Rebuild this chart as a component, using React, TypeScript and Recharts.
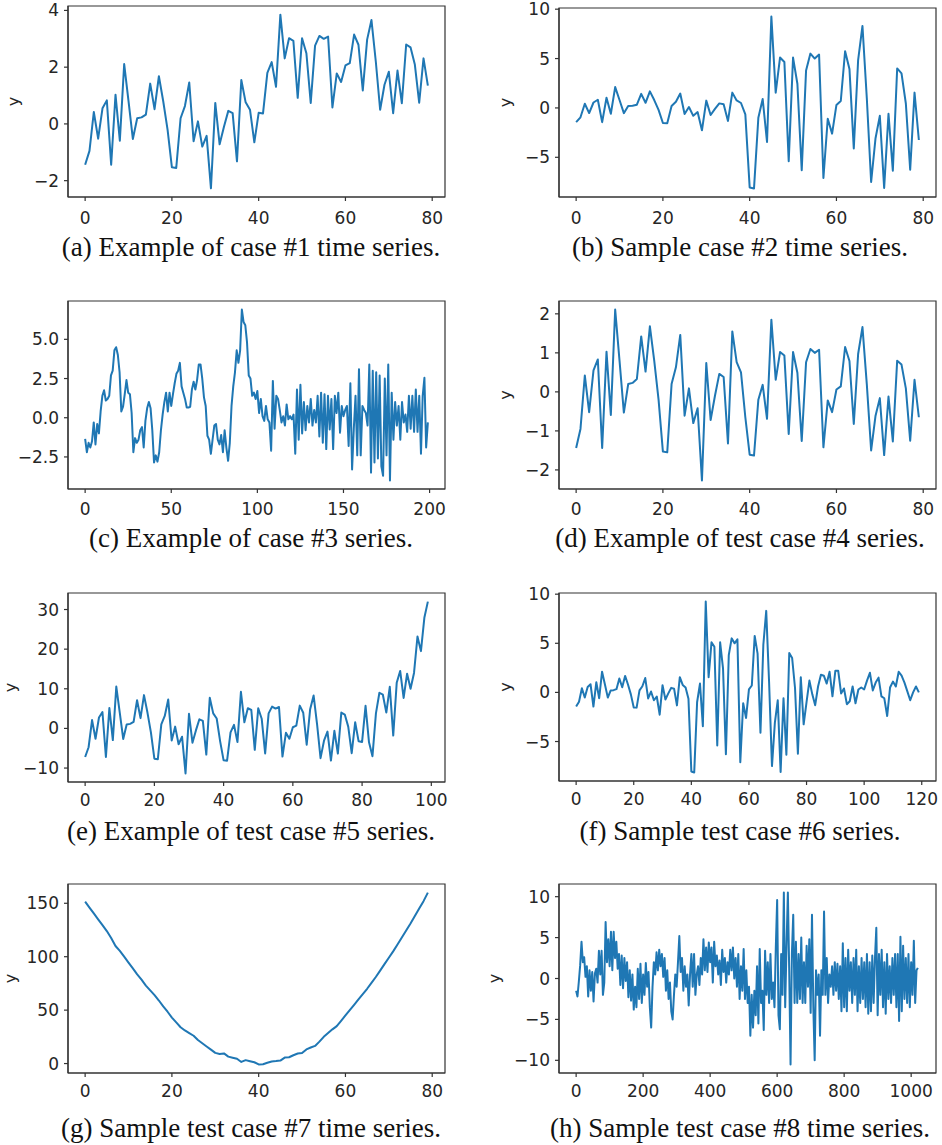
import React from 'react';
import { LineChart, Line, XAxis, YAxis, ReferenceArea } from 'recharts';

// ---------- data ----------
const aY = [-1.44, -0.95, 0.42, -0.52, 0.55, 0.83, -1.44, 1.03, -0.59, 2.11,
  0.8, -0.53, 0.2, 0.23, 0.33, 1.42, 0.52, 1.68, 0.8, -0.2,
  -1.53, -1.55, 0.2, 0.63, 1.46, -0.61, 0.09, -0.8, -0.42, -2.27,
  0.74, -0.72, -0.1, 0.46, 0.38, -1.32, 1.55, 0.76, 0.5, -0.65,
  0.39, 0.37, 1.8, 2.18, 1.31, 3.85, 2.31, 3.02, 2.93, 0.92,
  3.02, 2.49, 0.74, 2.76, 3.1, 3.0, 3.08, 0.58, 1.78, 1.48,
  2.06, 2.14, 3.15, 2.79, 1.18, 2.97, 3.66, 2.2, 0.5, 1.38,
  1.84, 0.38, 1.88, 0.73, 2.8, 2.7, 2.09, 0.75, 2.31, 1.35];

const bY = [-1.44, -0.95, 0.42, -0.52, 0.55, 0.83, -1.44, 1.03, -0.59, 2.11,
  0.8, -0.53, 0.2, 0.23, 0.33, 1.42, 0.52, 1.68, 0.8, -0.2,
  -1.53, -1.55, 0.2, 0.63, 1.46, -0.61, 0.09, -0.8, -0.42, -2.27,
  0.74, -0.72, -0.1, 0.46, 0.38, -1.32, 1.55, 0.76, 0.5, -0.65,
  -8.05, -8.15, -1.0, 0.9, -3.45, 9.25, 1.55, 5.1, 4.65, -5.4,
  5.1, 2.45, -6.3, 3.8, 5.5, 5.0, 5.4, -7.1, -1.1, -2.6,
  0.3, 0.7, 5.75, 3.95, -4.1, 4.85, 8.3, 1.0, -7.5, -3.1,
  -0.8, -8.1, -0.6, -6.35, 4.0, 3.5, 0.45, -6.25, 1.55, -3.25];

const cY = [-1.35, -2.2, -1.6, -1.9, -1.5, -0.3, -1.7, -0.4, -1.0, 0.4,
  1.4, 1.75, 1.1, 1.2, 1.4, 2.7, 3.0, 4.3, 4.5, 4.0,
  2.9, 0.4, 0.7, 1.5, 2.4, 1.6, 1.5, 0.3, -2.2, -1.3,
  -1.6, -1.4, -0.8, -0.6, -1.9, -0.2, 0.6, 1.0, 0.6, -0.8,
  -2.85, -2.4, -2.8, -2.2, -0.8, 0.2, 1.0, 1.6, 0.4, 1.6,
  0.75, 1.5, 2.2, 2.8, 3.0, 3.5, 2.0, 1.6, 1.2, 0.65,
  0.65, 0.7, 1.8, 2.3, 1.8, 2.4, 3.4, 3.4, 2.5, 1.3,
  0.75, -1.15, -1.4, -2.3, -1.4, -0.5, -0.4, -1.4, -1.7, -1.1,
  -2.2, -0.8, -1.9, -2.75, -1.6, 0.75, 2.0, 2.9, 4.3, 3.5,
  4.3, 6.9, 6.1, 5.9, 4.8, 2.7, 2.5, 1.4, 1.6, 1.2,
  1.7, 0.3, 1.2, 0.1, -0.2, 0.75, -0.1, -0.3, -2.1, 2.35,
  -0.7, 1.4, 1.2, 0.5, -0.3, 0.1, -0.5, 0.85, -0.1, 0.1,
  -0.1, 0.2, -2.3, 1.8, -1.4, 2.1, -1.0, 1.0, -0.8, 0.75,
  -0.3, 1.2, -0.5, 0.5, -0.3, 1.4, -1.2, 1.6, -1.6, 1.5,
  -2.0, 1.4, -0.75, 1.2, -2.0, 1.4, 0.3, 1.6, -0.95, 0.75,
  0.1, 0.5, 0.75, -1.8, 2.2, -3.3, -0.7, 1.4, -2.4, 3.1,
  -2.4, 0.75, 0.5, 0.3, -0.5, 3.4, -3.5, 3.0, -2.85, 2.9,
  -2.6, 2.7, -3.1, -3.7, 2.5, -2.4, 3.4, -4.0, 1.6, -1.4,
  1.0, -0.5, 0.75, -1.4, 1.0, -0.3, 0.2, -0.9, 1.4, -0.7,
  1.4, -0.9, 1.8, -0.9, 1.4, -2.3, 1.4, 2.55, -1.9, -0.3];

const dY = [-1.44, -0.95, 0.42, -0.52, 0.55, 0.83, -1.44, 1.03, -0.59, 2.11,
  0.8, -0.53, 0.2, 0.23, 0.33, 1.42, 0.52, 1.68, 0.8, -0.2,
  -1.53, -1.55, 0.2, 0.63, 1.46, -0.61, 0.09, -0.8, -0.42, -2.27,
  0.74, -0.72, -0.1, 0.46, 0.38, -1.32, 1.55, 0.76, 0.5, -0.65,
  -1.61, -1.63, -0.2, 0.18, -0.69, 1.85, 0.31, 1.02, 0.93, -1.08,
  1.02, 0.49, -1.26, 0.76, 1.1, 1.0, 1.08, -1.42, -0.22, -0.52,
  0.06, 0.14, 1.15, 0.79, -0.82, 0.97, 1.66, 0.2, -1.5, -0.62,
  -0.16, -1.62, -0.12, -1.27, 0.8, 0.7, 0.09, -1.25, 0.31, -0.65];

const eY = [-7.2, -4.75, 2.1, -2.6, 2.75, 4.15, -7.2, 5.15, -2.95, 10.55,
  4.0, -2.65, 1.0, 1.15, 1.65, 7.1, 2.6, 8.4, 4.0, -1.0,
  -7.65, -7.75, 1.0, 3.15, 7.3, -3.05, 0.45, -4.0, -2.1, -11.35,
  3.7, -3.6, -0.5, 2.3, 1.9, -6.6, 7.75, 3.8, 2.5, -3.25,
  -8.05, -8.15, -1.0, 0.9, -3.45, 9.25, 1.55, 5.1, 4.65, -5.4,
  5.1, 2.45, -6.3, 3.8, 5.5, 5.0, 5.4, -7.1, -1.1, -2.6,
  0.3, 0.7, 5.75, 3.95, -4.1, 4.85, 8.3, 1.0, -7.5, -3.1,
  -0.8, -8.1, -0.6, -6.35, 4.0, 3.5, 0.45, -6.25, 1.55, -3.25,
  -3.4, 5.7, -3.5, -7.0, 3.8, 9.0, 8.5, 4.0, 10.5, -1.8,
  11.5, 14.5, 7.7, 13.8, 10.0, 14.0, 23.2, 19.5, 28.0, 32.0];

const fY = [-1.44, -0.95, 0.42, -0.52, 0.55, 0.83, -1.44, 1.03, -0.59, 2.11,
  0.8, -0.53, 0.2, 0.23, 0.33, 1.42, 0.52, 1.68, 0.8, -0.2,
  -1.53, -1.55, 0.2, 0.63, 1.46, -0.61, 0.09, -0.8, -0.42, -2.27,
  0.74, -0.72, -0.1, 0.46, 0.38, -1.32, 1.55, 0.76, 0.5, -0.65,
  -8.05, -8.15, -1.0, 0.9, -3.45, 9.25, 1.55, 5.1, 4.65, -5.4,
  5.1, 2.45, -6.3, 3.8, 5.5, 5.0, 5.4, -7.1, -1.1, -2.6,
  0.3, 0.7, 5.75, 3.95, -4.1, 4.85, 8.3, 1.0, -7.5, -3.1,
  -0.8, -8.1, -0.6, -6.35, 4.0, 3.5, 0.45, -6.25, 1.55, -3.25,
  -1.0, 1.2, -0.2, -1.3, 0.6, 1.8, 1.7, 0.9, 2.1, -0.4,
  2.2, 2.2, -0.1, 0.4, -1.2, -0.9, 0.6, -1.1, 0.3, 0.5,
  0.3, 1.2, 2.0, 0.2, 1.0, 1.5, -0.4, -0.6, -2.4, 0.5,
  1.1, 0.6, 2.1, 1.7, 1.0, 0.1, -0.8, 0.0, 0.6, 0.0];

const gY = [151.5, 146, 140.5, 135, 129.5, 124, 117.5, 110, 105.5, 100,
  94.5, 89, 83.5, 78.5, 73, 68.5, 64, 59, 53.5, 48.5,
  43, 38.5, 34, 31, 28.5, 26, 22, 19, 16, 13,
  10, 9, 9.5, 6.5, 5.5, 4.5, 1.5, 3.2, 2.2, 1.2,
  -0.8, -0.6, 0.8, 2, 2.3, 2.8, 5.6, 5.9, 7.8, 9.4,
  9.8, 13.2, 15, 16.5, 20.5, 25, 28.5, 32, 35, 40,
  45, 50, 55, 60, 65, 70, 75.5, 81, 87, 93,
  99, 105, 111.5, 118, 124.5, 131, 138, 145, 152, 160];

// case #8: 1024 samples, read every 4th step
const hY = [-1.5, -2.2, -0.4, 1.6, 4.5, 2.0, 2.6, 0.2, 1.5, -2.2,
  1.0, -1.5, 0.8, -2.8, 0.6, 1.2, -0.5, 3.4, 0.5, 3.4,
  -2.0, -0.5, 6.9, 2.0, 4.8, 1.5, 5.7, 1.0, 5.7, 2.5,
  4.5, 1.2, 3.0, -0.8, 2.8, -1.2, 2.5, -0.3, 2.0, -2.3,
  1.0, -2.7, 0.5, -3.8, -1.0, -3.5, 1.2, -2.5, 1.8, -3.0,
  0.5, -2.0, 1.9, -1.0, 0.8, -3.5, -6.0, -1.0, 2.0, 0.5,
  3.2, 1.0, 3.5, 1.5, 3.0, 0.2, 2.5, -1.5, 1.0, -2.5,
  -0.5, -4.0, -5.0, -2.0, 0.5, -1.0, 2.0, 5.2, 0.8, 2.5,
  -1.5, 1.5, -1.0, 0.5, -3.3, 0.5, 3.0, -1.0, 3.0, -2.0,
  0.5, 1.5, -0.8, 2.5, 0.5, 4.8, 1.0, 3.8, 0.8, 4.4,
  2.0, 3.8, -0.5, 4.5, 1.5, 2.8, 0.5, 2.2, -0.8, 3.5,
  0.8, 2.5, -0.5, 2.0, 0.5, 3.5, 1.0, 3.8, 0.0, 2.5,
  -1.0, 3.0, -2.5, 1.5, -1.5, 3.6, -2.5, 1.0, -3.0, -1.0,
  -7.0, -2.0, -6.0, -1.5, -4.5, 1.5, -5.5, 3.6, -3.0, -1.5,
  -6.3, 3.4, -2.0, 2.0, -3.0, 3.0, -2.5, -0.5, -3.5, 3.8,
  9.6, -4.5, -6.2, 3.0, -2.0, 10.5, -3.5, 4.0, 10.5, 1.0,
  -10.5, 3.0, 7.8, -3.0, 4.5, -3.0, 3.0, -2.5, 5.0, -3.0,
  2.0, -3.0, 4.0, -1.0, 4.8, -4.2, 7.8, -3.5, -10.0, 1.0,
  -2.0, 0.5, -7.0, 1.0, -2.0, 8.2, -2.0, 2.5, -3.0, 0.5,
  -1.0, 1.5, -2.0, 2.0, -1.5, 1.8, -2.5, 1.5, -4.0, 4.3,
  -3.5, 2.5, -4.0, 3.5, -1.5, 2.0, -3.0, 2.5, -2.0, 3.5,
  -4.0, 1.5, -3.0, 2.5, -2.5, 2.0, -3.5, 3.0, -4.3, 2.0,
  -4.0, 2.8, -3.0, 2.5, 6.2, -4.5, 3.0, -2.0, 3.5, -3.5,
  2.0, -4.3, 3.0, -2.5, 1.5, -3.0, 2.5, -2.0, 3.0, -3.5,
  3.0, -5.2, 5.1, -4.0, 4.0, -2.5, 2.5, -3.0, 3.0, -3.5,
  2.0, -2.0, 4.6, -3.0, 1.0, 1.3];

const ticks80 = [0, 20, 40, 60, 80];
const ticks200 = [0, 50, 100, 150, 200];
const ticks100 = [0, 20, 40, 60, 80, 100];
const ticks120 = [0, 20, 40, 60, 80, 100, 120];
const ticks1000 = [0, 200, 400, 600, 800, 1000];

const yTicksA = [-2, 0, 2, 4];
const yTicksB = [-5, 0, 5, 10];
const yTicksC = [-2.5, 0, 2.5, 5];
const yTicksD = [-2, -1, 0, 1, 2];
const yTicksE = [-10, 0, 10, 20, 30];
const yTicksG = [0, 50, 100, 150];
const yTicksH = [-10, -5, 0, 5, 10];

const captions = [
  '(a) Example of case #1 time series.',
  '(b) Sample case #2 time series.',
  '(c) Example of case #3 series.',
  '(d) Example of test case #4 series.',
  '(e) Example of test case #5 series.',
  '(f) Sample test case #6 series.',
  '(g) Sample test case #7 time series.',
  '(h) Sample test case #8 time series.',
];

// ---------- styling ----------
const BLUE = '#1f77b4';
const INK = '#262626';
const FRAME = '#333333';
const tickStyle = { fontSize: 17, fill: INK, fontFamily: '"DejaVu Sans", sans-serif' };
const lineStyle = { stroke: FRAME, strokeWidth: 1.2 };
const PADL = 90; // room left of each plot frame for tick labels and the y label

const minus = (s: string) => s.replace('-', '\u2212');
const fmtInt = (v: number) => minus(String(v));
const fmtOne = (v: number) => minus(v.toFixed(1));

function xDom(n: number): [number, number] {
  const span = n - 1;
  return [-0.05 * span, span * 1.05];
}
function yDom(arr: number[]): [number, number] {
  const mn = Math.min(...arr);
  const mx = Math.max(...arr);
  const r = mx - mn;
  return [mn - 0.05 * r, mx + 0.05 * r];
}

type LabSpec = { bx: number; cy: number };

function YLab(props: any) {
  const { lx, ly } = props;
  return (
    <text
      x={lx}
      y={ly}
      transform={`rotate(-90 ${lx} ${ly})`}
      textAnchor="middle"
      fontSize={16}
      fill={INK}
      fontFamily='"DejaVu Sans", sans-serif'
    >
      y
    </text>
  );
}

type PanelProps = {
  id: string;
  L: number; T: number; W: number; H: number;
  ys: number[]; xStep?: number; n: number;
  xTicks: number[]; yTicks: number[];
  yFmt: (v: number) => string;
  xGap: number;
  lab?: LabSpec;
};

function Panel(p: PanelProps) {
  const step = p.xStep || 1;
  const data = p.ys.map((y, i) => ({ x: i * step, y }));
  const xd = xDom(p.n);
  const yd = yDom(p.ys);
  const ox = p.L - PADL;
  const oy = p.T - 12;
  const labEl = p.lab ? <YLab lx={p.lab.bx - ox} ly={p.lab.cy - oy} /> : undefined;
  return (
    <div style={{ position: 'absolute', left: ox, top: oy }}>
      <LineChart width={p.W + PADL + 10} height={p.H + 52} data={data}
        margin={{ top: 12, right: 10, bottom: 10, left: 0 }}>
        <XAxis dataKey="x" type="number" domain={xd} allowDataOverflow ticks={p.xTicks}
          interval={0} tickSize={4} tickMargin={p.xGap} height={30}
          tick={tickStyle} tickLine={lineStyle} axisLine={lineStyle} tickFormatter={fmtInt} />
        <YAxis type="number" domain={yd} allowDataOverflow ticks={p.yTicks} interval={0}
          tickSize={4} tickMargin={5} width={PADL} tick={tickStyle} tickLine={lineStyle}
          axisLine={lineStyle} tickFormatter={p.yFmt} label={labEl} />
        <ReferenceArea x1={xd[0]} x2={xd[1]} y1={yd[0]} y2={yd[1]} ifOverflow="visible"
          fill="none" fillOpacity={0} stroke={FRAME} strokeWidth={1.2} strokeOpacity={1} />
        <Line dataKey="y" type="linear" stroke={BLUE} strokeWidth={2} dot={false}
          strokeLinejoin="round" isAnimationActive={false} />
      </LineChart>
    </div>
  );
}

function Caption({ text, cx, base }: { text: string; cx: number; base: number }) {
  return (
    <div style={{
      position: 'absolute', left: cx - 300, width: 600, top: base - 24.1,
      textAlign: 'center', fontFamily: '"Liberation Serif", serif', fontSize: 27,
      lineHeight: '30px', color: '#111', whiteSpace: 'nowrap',
    }}>{text}</div>
  );
}

export default function App() {
  const LC = 251, RC = 740;
  const bases = [256, 547, 840, 1137];
  return (
    <div style={{ position: 'absolute', left: 0, top: 0, width: 942, height: 1145,
      background: '#fff', overflow: 'hidden' }}>
      <Panel id="a" L={68} T={6} W={377} H={191} ys={aY} n={80} xTicks={ticks80}
        yTicks={yTicksA} yFmt={fmtInt} xGap={11} lab={{ bx: 18.5, cy: 101.5 }} />
      <Panel id="b" L={559} T={8} W={377} H={189} ys={bY} n={80} xTicks={ticks80}
        yTicks={yTicksB} yFmt={fmtInt} xGap={11} lab={{ bx: 510.5, cy: 102.5 }} />
      <Panel id="c" L={68} T={301} W={377} H={188} ys={cY} n={200} xTicks={ticks200}
        yTicks={yTicksC} yFmt={fmtOne} xGap={10} />
      <Panel id="d" L={559} T={301} W={377} H={188} ys={dY} n={80} xTicks={ticks80}
        yTicks={yTicksD} yFmt={fmtInt} xGap={10} lab={{ bx: 510.5, cy: 395 }} />
      <Panel id="e" L={68} T={593} W={377} H={189} ys={eY} n={100} xTicks={ticks100}
        yTicks={yTicksE} yFmt={fmtInt} xGap={8} lab={{ bx: 16, cy: 687.5 }} />
      <Panel id="f" L={559} T={593} W={377} H={188} ys={fY} n={120} xTicks={ticks120}
        yTicks={yTicksB} yFmt={fmtInt} xGap={8} lab={{ bx: 510.5, cy: 687 }} />
      <Panel id="g" L={68} T={884} W={377} H={189} ys={gY} n={80} xTicks={ticks80}
        yTicks={yTicksG} yFmt={fmtInt} xGap={8} lab={{ bx: 16, cy: 978.5 }} />
      <Panel id="h" L={559} T={884} W={377} H={189} ys={hY} xStep={4} n={1024}
        xTicks={ticks1000} yTicks={yTicksH} yFmt={fmtInt} xGap={8}
        lab={{ bx: 500, cy: 978.5 }} />
      {captions.map((c, i) => (
        <Caption key={i} text={c} cx={i % 2 === 0 ? LC : RC} base={bases[Math.floor(i / 2)]} />
      ))}
    </div>
  );
}
